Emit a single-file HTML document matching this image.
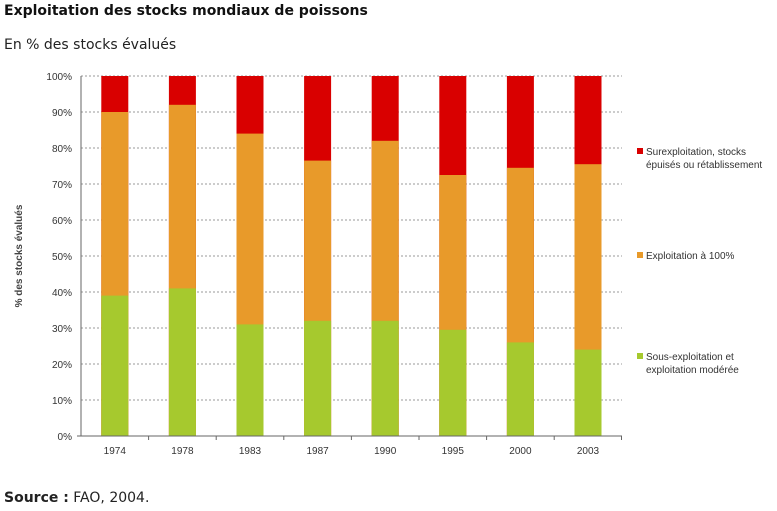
<!DOCTYPE html>
<html><head><meta charset="utf-8"><style>
body{margin:0;background:#fff;width:777px;height:506px;overflow:hidden}
</style></head><body>
<svg width="777" height="506" xmlns="http://www.w3.org/2000/svg" font-family="Liberation Sans, Arial, sans-serif">
<text x="4" y="15" font-size="14" font-weight="bold" fill="#111" font-family="DejaVu Sans, sans-serif">Exploitation des stocks mondiaux de poissons</text>
<text x="4" y="49" font-size="14" fill="#222" font-family="DejaVu Sans, sans-serif">En % des stocks évalués</text>
<g stroke="#999" stroke-width="1" stroke-dasharray="2,2">
<line x1="81" x2="622" y1="76" y2="76"/><line x1="81" x2="622" y1="112" y2="112"/><line x1="81" x2="622" y1="148" y2="148"/><line x1="81" x2="622" y1="184" y2="184"/><line x1="81" x2="622" y1="220" y2="220"/><line x1="81" x2="622" y1="256" y2="256"/><line x1="81" x2="622" y1="292" y2="292"/><line x1="81" x2="622" y1="328" y2="328"/><line x1="81" x2="622" y1="364" y2="364"/><line x1="81" x2="622" y1="400" y2="400"/>
</g>
<g>
<rect x="101.3" y="76" width="27" height="360" fill="#d90000"/><rect x="101.3" y="112" width="27" height="324" fill="#e89a2a"/><rect x="101.3" y="295.6" width="27" height="140.4" fill="#a6c92e"/>
<rect x="168.9" y="76" width="27" height="360" fill="#d90000"/><rect x="168.9" y="104.8" width="27" height="331.2" fill="#e89a2a"/><rect x="168.9" y="288.4" width="27" height="147.6" fill="#a6c92e"/>
<rect x="236.5" y="76" width="27" height="360" fill="#d90000"/><rect x="236.5" y="133.6" width="27" height="302.4" fill="#e89a2a"/><rect x="236.5" y="324.4" width="27" height="111.6" fill="#a6c92e"/>
<rect x="304.1" y="76" width="27" height="360" fill="#d90000"/><rect x="304.1" y="160.6" width="27" height="275.4" fill="#e89a2a"/><rect x="304.1" y="320.8" width="27" height="115.2" fill="#a6c92e"/>
<rect x="371.7" y="76" width="27" height="360" fill="#d90000"/><rect x="371.7" y="140.8" width="27" height="295.2" fill="#e89a2a"/><rect x="371.7" y="320.8" width="27" height="115.2" fill="#a6c92e"/>
<rect x="439.3" y="76" width="27" height="360" fill="#d90000"/><rect x="439.3" y="175" width="27" height="261" fill="#e89a2a"/><rect x="439.3" y="329.8" width="27" height="106.2" fill="#a6c92e"/>
<rect x="506.9" y="76" width="27" height="360" fill="#d90000"/><rect x="506.9" y="167.8" width="27" height="268.2" fill="#e89a2a"/><rect x="506.9" y="342.4" width="27" height="93.6" fill="#a6c92e"/>
<rect x="574.5" y="76" width="27" height="360" fill="#d90000"/><rect x="574.5" y="164.2" width="27" height="271.8" fill="#e89a2a"/><rect x="574.5" y="349.6" width="27" height="86.4" fill="#a6c92e"/>
</g>
<line x1="81" y1="76" x2="81" y2="436" stroke="#666"/>
<line x1="77" y1="436" x2="622" y2="436" stroke="#666"/>
<g stroke="#666">
<line x1="148.6" x2="148.6" y1="436" y2="440"/><line x1="216.2" x2="216.2" y1="436" y2="440"/><line x1="283.8" x2="283.8" y1="436" y2="440"/><line x1="351.4" x2="351.4" y1="436" y2="440"/><line x1="419" x2="419" y1="436" y2="440"/><line x1="486.6" x2="486.6" y1="436" y2="440"/><line x1="554.2" x2="554.2" y1="436" y2="440"/><line x1="621.5" x2="621.5" y1="436" y2="440"/>
</g>
<g font-size="10" fill="#333" text-anchor="end">
<text x="72" y="80">100%</text><text x="72" y="116">90%</text><text x="72" y="152">80%</text><text x="72" y="188">70%</text><text x="72" y="224">60%</text><text x="72" y="260">50%</text><text x="72" y="296">40%</text><text x="72" y="332">30%</text><text x="72" y="368">20%</text><text x="72" y="404">10%</text><text x="72" y="440">0%</text>
</g>
<text transform="translate(22,256) rotate(-90)" font-size="10" font-weight="bold" fill="#444" text-anchor="middle">% des stocks évalués</text>
<g font-size="10" fill="#333" text-anchor="middle">
<text x="114.8" y="454">1974</text><text x="182.4" y="454">1978</text><text x="250" y="454">1983</text><text x="317.6" y="454">1987</text><text x="385.2" y="454">1990</text><text x="452.8" y="454">1995</text><text x="520.4" y="454">2000</text><text x="588" y="454">2003</text>
</g>
<g font-size="10" fill="#333">
<rect x="637" y="148" width="6" height="6" fill="#d90000"/><text x="646" y="155">Surexploitation, stocks</text><text x="646" y="168">épuisés ou rétablissement</text>
<rect x="637" y="252" width="6" height="6" fill="#e89a2a"/><text x="646" y="259">Exploitation à 100%</text>
<rect x="637" y="353" width="6" height="6" fill="#a6c92e"/><text x="646" y="360">Sous-exploitation et</text><text x="646" y="373">exploitation modérée</text>
</g>
<text x="4" y="502" font-size="14" fill="#222" font-family="DejaVu Sans, sans-serif"><tspan font-weight="bold">Source :</tspan> FAO, 2004.</text>
</svg>
</body></html>
